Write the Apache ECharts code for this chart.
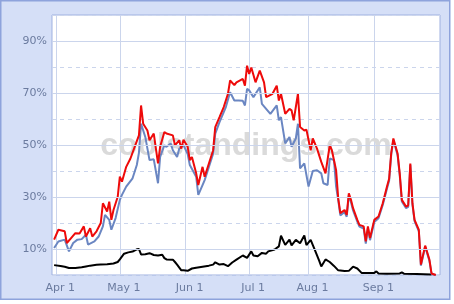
<!DOCTYPE html>
<html><head><meta charset="utf-8">
<script src="https://cdn.jsdelivr.net/npm/echarts@6/dist/echarts.min.js"></script>
<style>html,body{margin:0;padding:0;background:#fff}#c{width:454px;height:304px}</style>
</head><body><div id="c"></div>
<script>
// Axis range (game days; All-Star break days are not on the axis)
const firstDay = [2008, 3, 30];
const lastDay = [2008, 10, 2];
const breakDays = ['7/13', '7/14', '7/15'];
const monthTicks = ['4/1', '5/1', '6/1', '7/1', '8/1', '9/1'];
const tickLabels = ['Apr 1', 'May 1', 'Jun 1', 'Jul 1', 'Aug 1', 'Sep 1'];
const yLabeled = [10, 30, 50, 70, 90];
const watermark = 'coolstandings.com';

const redSeries = [
['3/31',13.6],['4/2',17.4],['4/5',16.8],['4/6',12.3],['4/8',14.2],['4/10',16.1],['4/12',16.0],['4/14',18.7],
['4/15',14.8],['4/17',18.0],['4/18',14.8],['4/20',16.8],['4/22',20.0],['4/23',27.6],['4/25',24.4],['4/26',28.2],
['4/27',21.2],['4/28',25.0],['4/30',30.1],['5/1',37.8],['5/2',35.9],['5/4',41.6],['5/6',44.8],['5/8',49.3],
['5/10',53.7],['5/11',65.2],['5/12',58.2],['5/14',55.6],['5/15',51.8],['5/17',54.4],['5/19',42.9],['5/20',49.3],
['5/22',55.0],['5/23',54.4],['5/26',53.7],['5/27',49.9],['5/29',51.8],['5/30',48.6],['5/31',52.0],['6/2',49.3],
['6/3',44.2],['6/4',45.4],['6/6',39.1],['6/7',34.6],['6/9',41.6],['6/10',37.8],['6/12',42.9],['6/14',48.0],
['6/15',56.9],['6/17',60.7],['6/19',64.6],['6/21',69.7],['6/22',74.8],['6/24',73.0],['6/25',74.1],['6/28',75.4],
['6/29',72.8],['6/30',80.5],['7/1',77.3],['7/2',79.8],['7/4',74.1],['7/6',78.6],['7/8',74.1],['7/9',68.4],
['7/12',69.7],['7/17',72.8],['7/18',67.1],['7/19',69.7],['7/21',62.0],['7/23',63.9],['7/24',63.3],['7/25',59.5],
['7/27',69.7],['7/28',56.9],['7/30',55.6],['7/31',55.9],['8/2',48.0],['8/3',52.5],['8/5',48.6],['8/7',43.5],
['8/9',39.1],['8/11',49.9],['8/12',48.0],['8/14',40.3],['8/15',29.5],['8/16',23.8],['8/18',25.0],['8/19',23.1],
['8/20',31.4],['8/21',28.9],['8/22',25.7],['8/24',21.2],['8/25',19.3],['8/27',18.7],['8/28',12.9],['8/29',18.7],
['8/30',14.2],['9/1',21.2],['9/3',22.5],['9/5',27.6],['9/7',34.0],['9/8',37.0],['9/9',47.0],['9/10',52.5],
['9/12',46.7],['9/13',39.1],['9/14',28.9],['9/16',26.3],['9/17',26.8],['9/18',42.9],['9/19',27.6],['9/20',21.2],
['9/22',17.4],['9/23',4.0],['9/25',11.3],['9/27',5.9],['9/28',0.6],['9/30',0]
];

const blueSeries = [
['3/31',10.4],['4/2',12.9],['4/5',13.6],['4/7',9.1],['4/9',12.3],['4/11',13.6],['4/13',13.8],['4/15',15.5],
['4/16',11.7],['4/19',12.9],['4/21',14.8],['4/23',18.7],['4/24',23.1],['4/26',21.2],['4/27',17.4],['4/29',21.9],
['5/1',28.9],['5/2',30.8],['5/4',34.0],['5/7',37.2],['5/9',42.3],['5/10',47.0],['5/11',58.2],['5/13',53.1],
['5/15',44.2],['5/17',44.5],['5/19',35.3],['5/20',45.4],['5/22',49.9],['5/23',49.3],['5/25',50.6],['5/26',48.0],
['5/28',45.4],['5/29',48.6],['5/31',50.0],['6/2',46.5],['6/3',42.3],['6/6',37.8],['6/7',30.8],['6/9',34.6],
['6/10',36.5],['6/12',41.6],['6/14',46.7],['6/15',54.4],['6/17',58.8],['6/20',64.6],['6/22',70.3],['6/24',67.1],
['6/26',67.1],['6/28',67.0],['6/29',65.2],['6/30',71.6],['7/1',71.0],['7/3',68.4],['7/6',72.2],['7/7',65.8],
['7/9',63.9],['7/11',62.0],['7/17',65.2],['7/18',59.5],['7/19',60.7],['7/21',50.6],['7/23',53.1],['7/24',49.3],
['7/26',52.5],['7/27',58.2],['7/28',41.0],['7/30',42.9],['8/1',34.0],['8/3',40.0],['8/5',40.3],['8/7',39.1],
['8/8',35.3],['8/10',34.6],['8/11',44.8],['8/13',44.2],['8/14',34.0],['8/15',28.8],['8/16',22.9],['8/18',24.2],
['8/19',22.4],['8/20',30.5],['8/21',28.1],['8/22',24.8],['8/24',20.5],['8/25',18.6],['8/27',17.9],['8/28',12.1],
['8/29',18.0],['8/30',13.4],['9/1',20.4],['9/3',21.8],['9/5',26.9],['9/7',33.3],['9/8',36.3],['9/9',46.4],
['9/10',51.9],['9/12',46.1],['9/13',38.5],['9/14',28.3],['9/16',25.7],['9/17',26.2],['9/18',42.4],['9/19',27.1],
['9/20',20.7],['9/22',16.9],['9/23',3.6],['9/25',10.9],['9/27',5.5],['9/28',0.4],['9/30',0]
];

const blackSeries = [
['3/31',3.8],['4/3',3.5],['4/5',3.2],['4/7',2.7],['4/10',2.7],['4/13',3.0],['4/15',3.3],['4/17',3.6],
['4/20',3.9],['4/22',4.0],['4/25',4.1],['4/28',4.4],['4/30',5.0],['5/1',6.0],['5/3',8.2],['5/5',8.7],
['5/7',9.0],['5/9',9.9],['5/10',10.0],['5/11',7.9],['5/13',8.0],['5/15',8.4],['5/17',7.7],['5/19',7.5],
['5/21',7.8],['5/22',6.5],['5/23',6.0],['5/26',5.9],['5/27',5.0],['5/28',4.0],['5/30',1.8],['5/31',1.8],
['6/2',1.6],['6/4',2.5],['6/6',2.8],['6/9',3.2],['6/12',3.6],['6/14',4.0],['6/15',4.9],['6/17',4.0],
['6/19',4.2],['6/21',3.4],['6/23',4.8],['6/25',5.9],['6/28',7.5],['6/30',6.6],['7/2',9.1],['7/3',7.5],
['7/5',7.2],['7/7',8.5],['7/9',8.2],['7/10',9.1],['7/16',9.8],['7/18',11.0],['7/19',15.1],['7/21',11.6],
['7/23',13.6],['7/24',11.4],['7/26',13.5],['7/28',12.2],['7/30',15.2],['7/31',11.5],['8/2',13.5],['8/4',9.6],
['8/6',5.5],['8/7',3.3],['8/9',6.0],['8/11',5.0],['8/13',3.5],['8/15',1.8],['8/18',1.5],['8/20',1.6],
['8/22',3.2],['8/24',2.5],['8/26',0.8],['8/30',0.8],['9/1',0.8],['9/2',1.4],['9/3',0.6],['9/7',0.5],
['9/13',0.6],['9/14',1.0],['9/15',0.5],['9/21',0.4],['9/28',0.2]
];

// build category list of game days
const days = [];
{
  const d = new Date(firstDay[0], firstDay[1] - 1, firstDay[2]);
  const end = new Date(lastDay[0], lastDay[1] - 1, lastDay[2]);
  while (d <= end) {
    const s = (d.getMonth() + 1) + '/' + d.getDate();
    if (!breakDays.includes(s)) days.push(s);
    d.setDate(d.getDate() + 1);
  }
}

const gridColor = '#cbd5ec';
const labelColor = '#6b7b9f';
const isTick = (i, v) => monthTicks.includes(v);

const chart = echarts.init(document.getElementById('c'), null, {renderer: 'canvas'});
chart.setOption({
  animation: false,
  backgroundColor: '#ffffff',
  graphic: [
    {type: 'rect', z: -10, shape: {x: 0.75, y: 0.75, width: 449, height: 298.5},
     style: {fill: '#d5dff7', stroke: '#8ea3dc', lineWidth: 1.5}},
    {type: 'text', z: 1, x: 246, y: 146,
     style: {text: watermark, font: 'bold 32px "Liberation Sans", Arial, sans-serif',
             fill: '#dadada', align: 'center', verticalAlign: 'middle'}}
  ],
  grid: {left: 52, top: 15, right: 14, bottom: 29, show: true,
         backgroundColor: '#ffffff', borderColor: '#9fb1e0', borderWidth: 1},
  xAxis: {
    type: 'category', data: days, boundaryGap: false,
    axisLine: {show: false}, axisTick: {show: false},
    axisLabel: {interval: isTick, color: labelColor, fontFamily: 'DejaVu Sans', fontSize: 11,
                margin: 8, padding: [0, 0, 0, 8],
                formatter: v => tickLabels[monthTicks.indexOf(v)]},
    splitLine: {show: true, interval: isTick, lineStyle: {color: gridColor, width: 1}}
  },
  yAxis: {
    type: 'value', min: 0, max: 100, interval: 10,
    axisLine: {show: false}, axisTick: {show: false},
    axisLabel: {color: labelColor, fontFamily: 'DejaVu Sans', fontSize: 11, margin: 5,
                formatter: v => yLabeled.includes(v) ? v + '%' : ''},
    splitLine: {show: true, lineStyle: {color: gridColor, width: 1, type: [4, 4]}}
  },
  series: [
    {type: 'line', data: [], z: 1, silent: true,
     markLine: {silent: true, symbol: 'none', label: {show: false}, animation: false,
                lineStyle: {color: gridColor, type: 'solid', width: 1},
                data: yLabeled.map(v => ({yAxis: v}))}},
    {name: 'black', type: 'line', data: blackSeries, symbol: 'none', z: 3,
     lineStyle: {color: '#000000', width: 2}},
    {name: 'blue', type: 'line', data: blueSeries, symbol: 'none', z: 3,
     lineStyle: {color: '#6a86c2', width: 2}},
    {name: 'red', type: 'line', data: redSeries, symbol: 'none', z: 3,
     lineStyle: {color: '#ee0a0a', width: 2}}
  ]
});
</script></body></html>
